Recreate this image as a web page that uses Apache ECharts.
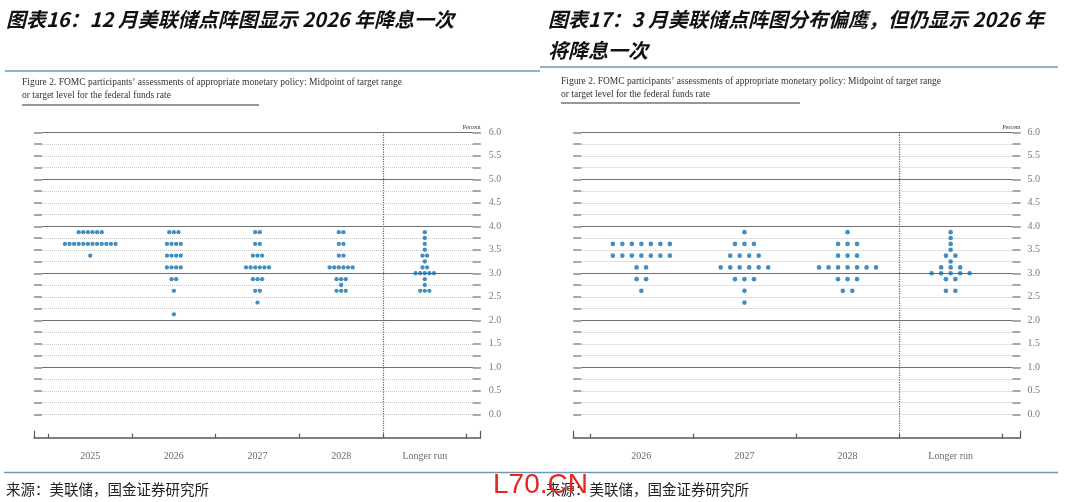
<!DOCTYPE html>
<html lang="zh">
<head>
    <meta charset="UTF-8">
    <title>美联储点阵图</title>
    <script src="https://cdn.jsdelivr.net/npm/echarts@6.0.0/dist/echarts.min.js"></script>
    <style>
        body { margin: 0; background: #fff; }
    </style>
</head>
<body>
<div id="main" style="width: 1080px;height:502px;"></div>
<script type="text/javascript">
    // 利率档位（目标区间中值）
    var rateLevels = [3.875, 3.75, 3.625, 3.5, 3.375, 3.25, 3.125, 3.0, 2.875, 2.75, 2.625, 2.375, 2.125];

    // 12月点阵图
    var decCategories = ['2025', '2026', '2027', '2028', 'Longer run'];
    var dec2025 = [6, 0, 12, 0, 1, 0, 0, 0, 0, 0, 0, 0, 0];
    var dec2026 = [3, 0, 4, 0, 4, 0, 4, 0, 2, 0, 1, 0, 1];
    var dec2027 = [2, 0, 2, 0, 3, 0, 6, 0, 3, 0, 2, 1, 0];
    var dec2028 = [2, 0, 2, 0, 2, 0, 6, 0, 3, 1, 3, 0, 0];
    var decLonger = [1, 1, 1, 1, 2, 1, 2, 5, 1, 1, 3, 0, 0];

    // 3月点阵图
    var marCategories = ['2026', '2027', '2028', 'Longer run'];
    var mar2026 = [0, 0, 7, 0, 7, 0, 2, 0, 2, 0, 1, 0, 0];
    var mar2027 = [1, 0, 3, 0, 4, 0, 6, 0, 3, 0, 1, 1, 0];
    var mar2028 = [1, 0, 3, 0, 3, 0, 7, 0, 3, 0, 2, 0, 0];
    var marLonger = [1, 1, 1, 1, 2, 1, 3, 5, 2, 0, 2, 0, 0];

    // 纵轴刻度
    var yMin = 0;
    var yMax = 6;
    var yStep = 0.25;

    var dotColor = '#1272b3';
    var serif = '"Liberation Serif", "DejaVu Serif", serif';
    var cjk = '"Noto Sans CJK SC", sans-serif';

    // 每个点按档位人数横向排开
    function buildDots(columns, spacing) {
        var pts = [];
        columns.forEach(function (counts, ci) {
            counts.forEach(function (n, ri) {
                for (var k = 0; k < n; k++) {
                    pts.push({
                        value: [ci, rateLevels[ri]],
                        symbolOffset: [(k - (n - 1) / 2) * spacing, 0]
                    });
                }
            });
        });
        return pts;
    }

    var grids = [], xAxes = [], yAxes = [], series = [];

    // 每根轴单独放一个 grid，避免多轴互相挤位
    function addGrid(left, top, width, height) {
        grids.push({left: left, top: top, width: width, height: height});
        return grids.length - 1;
    }

    function addPanel(p) {
        var top = 132.3, plotH = 282, fullH = 305.4, w = p.right - p.left;

        // 右侧刻度标签 + 虚线网格
        var gR = addGrid(p.left, top, w, plotH);
        xAxes.push({gridIndex: gR, type: 'value', min: 1, max: 2, show: false});
        yAxes.push({
            gridIndex: gR, type: 'value', position: 'right', min: yMin, max: yMax, interval: yStep,
            name: 'Percent', nameLocation: 'end', nameGap: 2,
            nameTextStyle: {fontFamily: serif, fontSize: 6, color: '#333', align: 'right', verticalAlign: 'bottom'},
            axisLine: {show: false, onZero: false},
            axisTick: {inside: true, length: 8, lineStyle: {color: '#a8a8a8', width: 2}},
            axisLabel: {
                margin: p.labelMargin, fontFamily: serif, fontSize: 10, color: '#7a7a7a',
                formatter: function (v) {
                    return Math.round(v / yStep) % 2 === 0 ? v.toFixed(1) : '';
                }
            },
            splitLine: {show: true, lineStyle: {type: 'dotted', color: '#c4c4c4', width: 1}}
        });

        // 左侧短刻度
        var gL = addGrid(p.left, top, w, plotH);
        xAxes.push({gridIndex: gL, type: 'value', min: 1, max: 2, show: false});
        yAxes.push({
            gridIndex: gL, type: 'value', position: 'left', min: yMin, max: yMax, interval: yStep,
            axisLine: {show: false, onZero: false},
            axisTick: {inside: true, length: 8, lineStyle: {color: '#a8a8a8', width: 2}},
            axisLabel: {show: false}, splitLine: {show: false}
        });

        // 整数位实线
        var gI = addGrid(p.left, top, w, plotH);
        xAxes.push({gridIndex: gI, type: 'value', min: 1, max: 2, show: false});
        yAxes.push({
            gridIndex: gI, type: 'value', position: 'left', min: yMin, max: yMax, interval: 1,
            axisLine: {show: false, onZero: false}, axisTick: {show: false}, axisLabel: {show: false},
            splitLine: {show: true, showMinLine: false, lineStyle: {color: '#707070', width: 1.2}}
        });

        // 底部坐标框
        var gF = addGrid(p.left, top, w, fullH);
        xAxes.push({
            gridIndex: gF, type: 'value', min: 0, max: 1, interval: 1,
            axisLine: {onZero: false, lineStyle: {color: '#555', width: 1.5}},
            axisTick: {inside: true, length: 7, lineStyle: {color: '#555', width: 1.2}},
            axisLabel: {show: false}, splitLine: {show: false}
        });
        yAxes.push({gridIndex: gF, type: 'value', min: 0, max: 1, show: false});

        // 分类与点
        var gC = addGrid(p.catLeft, top, p.catRight - p.catLeft, fullH);
        var splitColors = p.categories.map(function () { return 'rgba(0,0,0,0)'; });
        splitColors.push('rgba(0,0,0,0)');
        splitColors[p.categories.length - 1] = '#666';
        var xCat = xAxes.length;
        xAxes.push({
            gridIndex: gC, type: 'category', data: p.categories, boundaryGap: true,
            axisLine: {show: false, onZero: false},
            axisTick: {show: true, interval: 0, inside: true, length: 4, lineStyle: {color: '#555', width: 1.2}},
            axisLabel: {interval: 0, margin: 14, fontFamily: serif, fontSize: 10, color: '#6a6a6a'},
            splitLine: {show: true, interval: 0, lineStyle: {type: 'dotted', color: splitColors, width: 1.2}}
        });
        var yDot = yAxes.length;
        yAxes.push({gridIndex: gC, type: 'value', min: yMin - 0.5, max: yMax, show: false});

        series.push({
            type: 'scatter', xAxisIndex: xCat, yAxisIndex: yDot,
            symbol: 'circle', symbolSize: p.dotSize, silent: true,
            itemStyle: {color: dotColor},
            data: buildDots(p.columns, p.spacing)
        });
    }

    addPanel({
        left: 34, right: 480.7, catLeft: 48.4, catRight: 466.6, labelMargin: 8,
        categories: decCategories, columns: [dec2025, dec2026, dec2027, dec2028, decLonger],
        spacing: 4.6, dotSize: 4.3
    });
    addPanel({
        left: 573.3, right: 1020.5, catLeft: 589.8, catRight: 1002.2, labelMargin: 7,
        categories: marCategories, columns: [mar2026, mar2027, mar2028, marLonger],
        spacing: 9.5, dotSize: 4.6
    });

    var figLine1 = 'Figure 2. FOMC participants\u2019 assessments of appropriate monetary policy: Midpoint of target range';
    var figLine2 = 'or target level for the federal funds rate';
    var source = '来源：美联储，国金证券研究所';

    function txt(x, y, text, size, family, extra) {
        var style = {text: text, fontSize: size, fontFamily: family, fill: '#111', verticalAlign: 'middle'};
        for (var k in extra) { style[k] = extra[k]; }
        return {type: 'text', x: x, y: y, silent: true, style: style};
    }
    function line(x1, y1, x2, y2, color, w) {
        return {type: 'line', silent: true, shape: {x1: x1, y1: y1, x2: x2, y2: y2}, style: {stroke: color, lineWidth: w}};
    }

    var titleStyle = {fontWeight: 'bold', fontStyle: 'italic'};
    var graphics = [
        txt(6, 19, '图表16：12 月美联储点阵图显示 2026 年降息一次', 20, cjk, titleStyle),
        txt(548, 19, '图表17：3 月美联储点阵图分布偏鹰，但仍显示 2026 年', 20, cjk, titleStyle),
        txt(548, 50, '将降息一次', 20, cjk, titleStyle),
        line(5, 71, 540, 71, '#6f98bb', 1.5),
        line(540, 67, 1058, 67, '#6f98bb', 1.5),
        txt(22, 82, figLine1, 9.5, serif, {fill: '#333'}),
        txt(22, 95, figLine2, 9.5, serif, {fill: '#333'}),
        txt(561, 81, figLine1, 9.5, serif, {fill: '#333'}),
        txt(561, 94, figLine2, 9.5, serif, {fill: '#333'}),
        line(22, 105, 259, 105, '#333', 1.2),
        line(561, 103, 800, 103, '#333', 1.2),
        line(4, 472.5, 1058, 472.5, '#6f98bb', 1.5),
        txt(6, 489, source, 14.5, cjk, {fill: '#222'}),
        txt(546, 489, source, 14.5, cjk, {fill: '#222'}),
        txt(493, 485, 'L70.CN', 28, '"Liberation Sans", sans-serif', {fill: '#e3261f'})
    ];

    var myChart = echarts.init(document.getElementById('main'), null, {renderer: 'canvas'});
    var option = {
        animation: false,
        backgroundColor: '#fff',
        grid: grids,
        xAxis: xAxes,
        yAxis: yAxes,
        series: series,
        graphic: graphics
    };
    myChart.setOption(option);
</script>
</body>
</html>
